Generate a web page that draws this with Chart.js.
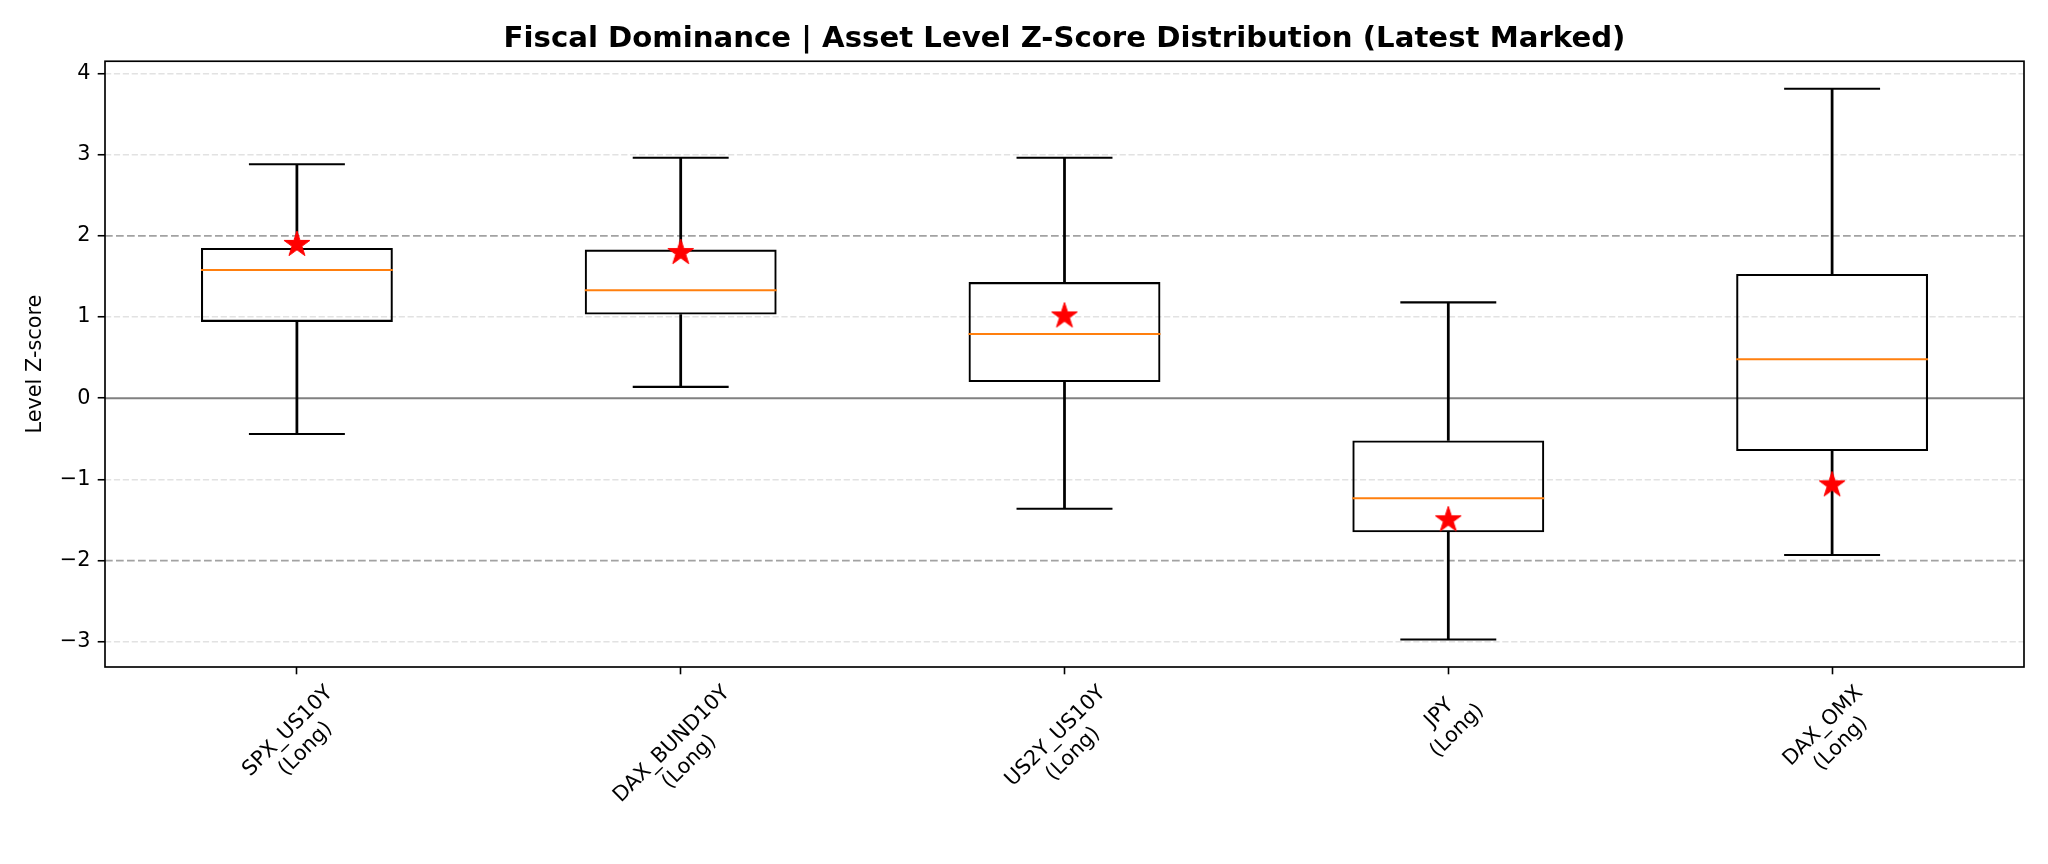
<!DOCTYPE html>
<html><head><meta charset="utf-8">
<script src="https://cdn.jsdelivr.net/npm/chart.js@4.4.1/dist/chart.umd.min.js"></script>
<style>html,body{margin:0;padding:0;background:#fff;} #wrap{width:2048px;height:864px;position:relative;}</style>
</head><body><div id="wrap"><canvas id="c"></canvas></div>
<script>
// ---- data ----
const categories  = ['SPX_US10Y', 'DAX_BUND10Y', 'US2Y_US10Y', 'JPY', 'DAX_OMX'];
const directions  = ['(Long)', '(Long)', '(Long)', '(Long)', '(Long)'];
const whiskerLow  = [-0.44, 0.14, -1.36, -2.97, -1.93];
const q1          = [0.94, 1.03, 0.20, -1.65, -0.65];
const median      = [1.58, 1.33, 0.79, -1.23, 0.48];
const q3          = [1.85, 1.83, 1.43, -0.52, 1.53];
const whiskerHigh = [2.88, 2.96, 2.96, 1.18, 3.81];
const latest      = [1.90, 1.80, 1.02, -1.49, -1.06];
const yTicks      = [-3, -2, -1, 0, 1, 2, 3, 4];
const zeroLine    = 0;
const bandLines   = [-2, 2];
const titleText   = 'Fiscal Dominance | Asset Level Z-Score Distribution (Latest Marked)';
const yLabel      = 'Level Z-score';

// ---- derived axis range (matplotlib-like 5% margin) ----
const dMin = Math.min(...whiskerLow, ...latest);
const dMax = Math.max(...whiskerHigh, ...latest);
const pad = (dMax - dMin) * 0.05;

const FONT = "'DejaVu Sans', 'Liberation Sans', sans-serif";
const FS = 20.8;

// star marker image (matplotlib '*')
function makeStar(R) {
  const c = document.createElement('canvas');
  const s = Math.ceil(R * 2 + 4);
  c.width = s; c.height = s;
  const g = c.getContext('2d');
  const cx = s / 2, cy = s / 2 + R * 0.05;
  const r = R * 0.381966;
  g.beginPath();
  for (let k = 0; k < 10; k++) {
    const ang = -Math.PI / 2 + k * Math.PI / 5;
    const rr = k % 2 === 0 ? R : r;
    const x = cx + rr * Math.cos(ang), y = cy + rr * Math.sin(ang);
    if (k === 0) g.moveTo(x, y); else g.lineTo(x, y);
  }
  g.closePath();
  g.fillStyle = '#ff0000';
  g.fill();
  g.lineWidth = 1; g.strokeStyle = '#ff0000'; g.stroke();
  return c;
}
const starImg = makeStar(13.6);

const catHalf = (ctx, frac) => {
  const s = ctx.chart.scales.x;
  if (!s || !s.width) return 0;
  return s.width / categories.length * frac;
};

const refLinesPlugin = {
  id: 'refLines',
  beforeDatasetsDraw(chart) {
    const {ctx, chartArea: a, scales: {y}} = chart;
    ctx.save();
    ctx.lineWidth = 1.7;
    ctx.strokeStyle = '#a2a2a2';
    ctx.setLineDash([7.7, 3.3]);
    bandLines.forEach(v => {
      const py = y.getPixelForValue(v);
      ctx.beginPath(); ctx.moveTo(a.left, py); ctx.lineTo(a.right, py); ctx.stroke();
    });
    ctx.setLineDash([]);
    ctx.strokeStyle = '#808080';
    ctx.lineWidth = 2.1;
    const pz = y.getPixelForValue(zeroLine);
    ctx.beginPath(); ctx.moveTo(a.left, pz); ctx.lineTo(a.right, pz); ctx.stroke();
    ctx.restore();
  }
};

const framePlugin = {
  id: 'frame',
  afterDatasetsDraw(chart) {
    const {ctx, chartArea: a} = chart;
    ctx.save();
    ctx.lineWidth = 1.67;
    ctx.strokeStyle = '#000';
    ctx.strokeRect(a.left, a.top, a.right - a.left, a.bottom - a.top);
    ctx.restore();
  }
};

const xLabelPlugin = {
  id: 'xLabels',
  afterDraw(chart) {
    const {ctx, chartArea: a, scales: {x}} = chart;
    ctx.save();
    ctx.font = FS + 'px ' + FONT;
    ctx.fillStyle = '#000';
    ctx.textAlign = 'center';
    ctx.textBaseline = 'middle';
    const top = a.bottom + 7.3 + 7.3;
    const lh = FS * 1.2;
    categories.forEach((c, i) => {
      const lines = [c, directions[i]];
      const W = Math.max(...lines.map(l => ctx.measureText(l).width));
      const H = lh + FS * 1.1;
      const bb = (W + H) * Math.SQRT1_2;
      const cx = x.getPixelForValue(i);
      const cy = top + bb / 2;
      ctx.save();
      ctx.translate(cx, cy);
      ctx.rotate(-Math.PI / 4);
      ctx.fillText(lines[0], 0, -lh / 2);
      ctx.fillText(lines[1], 0, lh / 2);
      ctx.restore();
    });
    ctx.restore();
  }
};

const commonBar = {type: 'bar', grouped: false, categoryPercentage: 1, borderSkipped: false};
const commonPts = {type: 'line', showLine: false, pointHoverRadius: 0};

new Chart(document.getElementById('c'), {
  type: 'bar',
  data: {
    labels: categories,
    datasets: [
      {...commonPts, label: 'latest', order: 0, data: latest,
        pointStyle: starImg, pointRadius: 14, borderColor: '#ff0000', backgroundColor: '#ff0000'},
      {...commonPts, label: 'median', order: 1, data: median,
        pointStyle: 'line', pointRadius: ctx => catHalf(ctx, 0.25),
        pointBorderColor: '#ff7f0e', pointBorderWidth: 2, borderColor: '#ff7f0e'},
      {...commonPts, label: 'capHigh', order: 2, data: whiskerHigh,
        pointStyle: 'line', pointRadius: ctx => catHalf(ctx, 0.125),
        pointBorderColor: '#000', pointBorderWidth: 2.1, borderColor: '#000'},
      {...commonPts, label: 'capLow', order: 2, data: whiskerLow,
        pointStyle: 'line', pointRadius: ctx => catHalf(ctx, 0.125),
        pointBorderColor: '#000', pointBorderWidth: 2.1, borderColor: '#000'},
      {...commonBar, label: 'box', order: 3, data: q1.map((v, i) => [v, q3[i]]),
        barPercentage: 0.5, backgroundColor: 'rgba(0,0,0,0)', borderColor: '#000', borderWidth: 2.1},
      {...commonBar, label: 'whiskerHigh', order: 4, data: q3.map((v, i) => [v, whiskerHigh[i]]),
        barThickness: 2.1, backgroundColor: '#000', borderWidth: 0},
      {...commonBar, label: 'whiskerLow', order: 4, data: whiskerLow.map((v, i) => [v, q1[i]]),
        barThickness: 2.1, backgroundColor: '#000', borderWidth: 0}
    ]
  },
  options: {
    responsive: true,
    maintainAspectRatio: false,
    animation: false,
    devicePixelRatio: 1,
    layout: {padding: {left: 0, right: 24, top: 0, bottom: 0}},
    plugins: {
      legend: {display: false},
      tooltip: {enabled: false},
      title: {
        display: true, text: titleText, fullSize: false, color: '#000',
        font: {family: FONT, size: 29.2, weight: 'bold'},
        padding: {top: 21.6, bottom: 4.6}
      }
    },
    scales: {
      x: {
        offset: true,
        grid: {display: true, offset: false, drawOnChartArea: false, drawTicks: true, tickLength: 7.3,
               tickColor: '#000', tickWidth: 1.6},
        border: {display: false},
        ticks: {display: false},
        afterFit: s => { s.height = 864 - 667; }
      },
      y: {
        min: dMin - pad,
        max: dMax + pad,
        afterBuildTicks: s => { s.ticks = yTicks.map(v => ({value: v})); },
        grid: {
          color: c => (c.tick && (c.tick.value === zeroLine || bandLines.includes(c.tick.value))) ? 'rgba(0,0,0,0)' : '#e2e2e2',
          lineWidth: 1.5, tickLength: 7.3, tickColor: '#000', tickWidth: 1.6
        },
        border: {display: false, dash: [6.2, 2.7]},
        ticks: {
          color: '#000', padding: 7.3,
          font: {family: FONT, size: FS},
          callback: v => (v < 0 ? '\u2212' + Math.abs(v) : String(v))
        },
        title: {display: true, text: yLabel, color: '#000',
                font: {family: FONT, size: FS}, padding: {top: 23.5, bottom: 0}},
        afterFit: s => { s.width = 105; }
      }
    }
  },
  plugins: [refLinesPlugin, framePlugin, xLabelPlugin]
});
</script>
</body></html>
